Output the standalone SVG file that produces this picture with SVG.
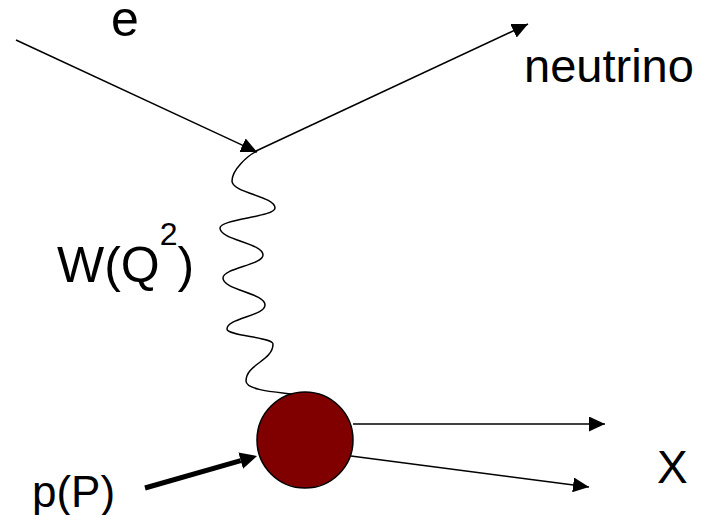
<svg xmlns="http://www.w3.org/2000/svg" width="705" height="515" viewBox="0 0 705 515">
<style>
.lbl{font-family:"Liberation Sans",Arial,sans-serif;fill:#000}
.ln{stroke:#000;stroke-width:1.5;fill:none}
</style>
<defs>
<marker id="ah" markerUnits="userSpaceOnUse" markerWidth="16" markerHeight="15" refX="16" refY="7.5" orient="auto">
<path d="M0,0 L16,7.5 L0,15 Z" fill="#000"/>
</marker>
<marker id="ahb" markerUnits="userSpaceOnUse" markerWidth="18" markerHeight="17" refX="0" refY="8.5" orient="auto">
<path d="M0,0 L17,8.5 L0,17 Z" fill="#000"/>
</marker>
</defs>
<rect width="705" height="515" fill="#fff"/>
<g id="connectors">
<line class="ln" x1="16" y1="40" x2="257" y2="152" marker-end="url(#ah)"/>
<line class="ln" x1="256" y1="151" x2="528" y2="24" marker-end="url(#ah)"/>
<path id="wave" class="ln" d="M257,151 C247,156 232,170 232,181 C232,193 275,196 275,208 C275,217 220,219 220,228 C220,240 263,243 263,255 C263,265 223,268 223,278 C223,290 265,293 265,305 C265,316 227,318 227,329 C227,336 273,337 273,344 C273,361 246,364 246,381 C246,390 275,392 291,394"/>
<line class="ln" x1="353" y1="424" x2="605" y2="424" marker-end="url(#ah)"/>
<line class="ln" x1="351" y1="456" x2="589" y2="487" marker-end="url(#ah)"/>
<line x1="145" y1="488" x2="240.7" y2="460.7" stroke="#000" stroke-width="5" marker-end="url(#ahb)"/>
</g>
<g id="blob">
<circle cx="305" cy="440" r="48" fill="#800000" stroke="#000" stroke-width="1.5"/>
</g>
<g id="label-e"><text class="lbl" x="111" y="36" font-size="50">e</text></g>
<g id="label-neutrino"><text class="lbl" x="524" y="82" font-size="47">neutrino</text></g>
<g id="label-W"><text class="lbl" x="57" y="282" font-size="50">W(Q<tspan font-size="32" dy="-37">2</tspan><tspan dy="37">)</tspan></text></g>
<g id="label-p"><text class="lbl" x="32" y="507" font-size="44">p(P)</text></g>
<g id="label-X"><text class="lbl" x="657" y="483" font-size="46">X</text></g>
</svg>
